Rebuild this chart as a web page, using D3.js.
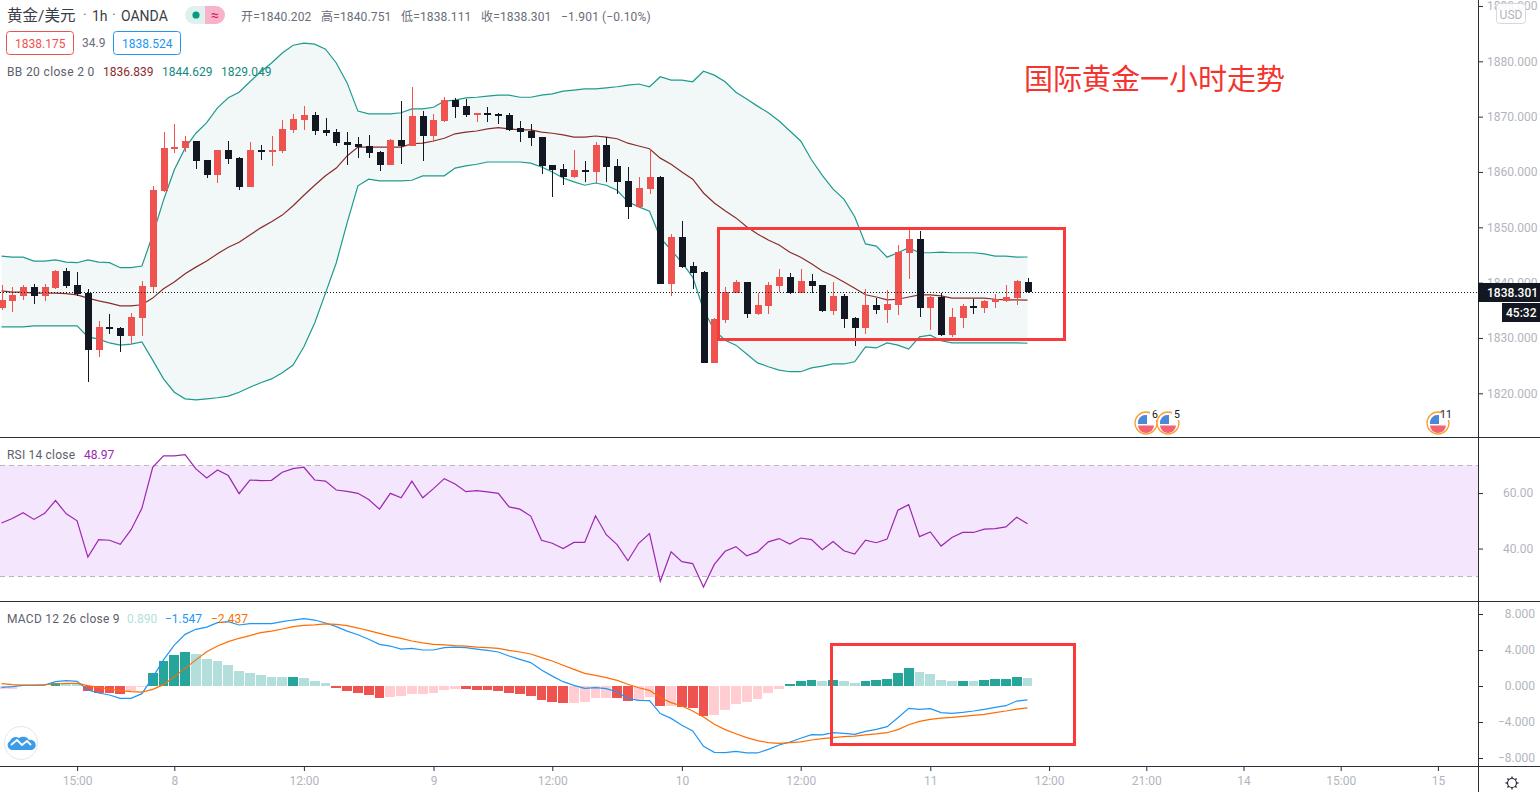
<!DOCTYPE html>
<html lang="zh">
<head>
  <meta charset="UTF-8">
  <title>国际黄金一小时走势</title>
  <style>
    html, body { margin: 0; background: #fff; overflow: hidden; }
    svg { display: block; }
    text { font-family: Roboto, "Noto Sans CJK SC", sans-serif; }
    .axis path { display: none; }
    .axis line { stroke: #2a2e39; }
    .axis text { fill: #b2b5be; font-size: 12px; }
    .crisp { shape-rendering: crispEdges; }
  </style>
</head>
<body>
  <svg id="chart" width="1540" height="792"></svg>
  <script src="https://d3js.org/d3.v7.min.js"></script>
  <script>
    // candles, one per hour
    const opens = [1835.4,1836.7,1837.6,1839.2,1837.6,1839.0,1842.1,1839.6,1838.1,1827.8,1832.0,1831.8,1830.4,1833.6,1839.2,1856.6,1864.2,1864.3,1865.6,1862.2,1859.4,1864.0,1862.5,1857.3,1864.0,1863.8,1863.8,1867.6,1869.4,1870.3,1867.6,1867.2,1865.4,1865.0,1864.7,1863.6,1861.3,1865.8,1864.7,1870.1,1866.5,1869.2,1873.0,1871.9,1870.3,1870.7,1870.5,1870.3,1867.9,1867.4,1866.3,1861.3,1860.5,1859.1,1860.4,1860.0,1864.9,1861.1,1858.4,1853.7,1856.9,1859.1,1839.8,1848.2,1843.0,1841.9,1825.5,1833.2,1838.1,1840.1,1834.3,1835.8,1839.4,1841.0,1838.1,1840.3,1839.6,1834.9,1837.6,1833.6,1831.8,1836.0,1835.1,1836.0,1845.4,1847.9,1835.4,1837.4,1830.5,1833.6,1835.8,1835.4,1836.5,1836.7,1837.2,1840.202];
    const highs = [1839.6,1839.2,1839.6,1839.8,1839.8,1842.3,1842.6,1841.9,1838.9,1833.1,1834.3,1832.0,1834.5,1840.3,1857.5,1867.2,1868.7,1866.5,1865.6,1862.2,1864.0,1865.6,1862.7,1865.4,1864.9,1866.5,1869.4,1870.5,1871.9,1870.8,1869.8,1867.8,1867.2,1866.3,1866.7,1863.8,1866.0,1872.8,1875.4,1871.0,1870.5,1873.5,1873.4,1873.2,1870.7,1871.7,1870.7,1870.7,1869.2,1868.7,1866.3,1861.3,1861.4,1864.0,1862.0,1865.4,1866.3,1862.3,1860.9,1859.1,1864.2,1859.3,1848.8,1851.1,1843.7,1842.1,1833.6,1839.2,1840.5,1840.1,1838.1,1840.1,1842.5,1841.7,1842.5,1841.6,1839.6,1840.1,1838.0,1833.8,1838.9,1837.2,1838.7,1846.8,1849.5,1849.3,1837.6,1838.1,1835.4,1836.1,1837.0,1836.9,1838.0,1839.6,1840.5,1840.751];
    const lows = [1835.1,1834.7,1836.9,1836.1,1836.7,1838.9,1839.0,1837.6,1822.0,1826.5,1830.7,1827.5,1828.9,1830.4,1838.1,1856.4,1863.4,1863.6,1860.5,1858.9,1858.0,1861.4,1856.7,1857.3,1862.2,1861.1,1863.4,1867.0,1867.6,1866.7,1866.5,1864.7,1861.3,1862.5,1862.5,1860.2,1861.3,1861.4,1864.7,1862.0,1865.4,1869.0,1869.7,1869.9,1869.0,1869.0,1868.7,1867.4,1865.4,1864.7,1859.6,1855.5,1857.6,1858.9,1858.2,1858.0,1858.2,1856.0,1851.5,1853.5,1856.0,1839.8,1837.6,1842.6,1838.9,1825.5,1825.5,1832.7,1838.1,1833.6,1834.1,1834.3,1838.3,1837.9,1838.1,1838.1,1834.7,1834.1,1831.8,1828.6,1830.7,1834.3,1832.7,1834.1,1840.7,1833.8,1831.4,1830.4,1830.2,1831.8,1834.3,1834.5,1835.4,1836.5,1836.0,1838.111];
    const closes = [1836.9,1837.8,1839.2,1837.6,1839.2,1842.1,1839.4,1838.0,1827.8,1832.0,1831.6,1830.4,1833.8,1839.4,1856.7,1864.3,1864.5,1865.6,1862.0,1859.4,1864.0,1862.3,1857.3,1864.0,1863.8,1864.0,1867.8,1869.6,1870.3,1867.4,1867.0,1865.2,1864.9,1864.5,1863.4,1861.3,1865.8,1864.7,1870.1,1866.5,1869.4,1873.0,1871.7,1870.3,1870.7,1870.3,1870.1,1867.6,1867.2,1866.1,1861.1,1860.4,1859.1,1860.4,1860.0,1864.9,1860.9,1858.2,1853.7,1857.1,1859.1,1839.8,1848.2,1842.8,1841.7,1825.5,1833.4,1838.3,1840.1,1834.3,1836.0,1839.6,1841.0,1838.1,1840.3,1839.4,1834.9,1837.6,1833.4,1831.8,1836.0,1835.1,1836.1,1845.5,1847.9,1835.4,1837.4,1830.5,1833.8,1835.8,1835.4,1836.7,1837.1,1837.4,1840.3,1838.301];

    // Bollinger bands
    const bbUpper = [1844.8,1844.6,1844.6,1843.9,1843.9,1844.1,1843.7,1843.6,1844.1,1843.7,1843.6,1842.7,1842.7,1843.0,1848.6,1854.9,1860.4,1864.3,1867.0,1868.9,1871.6,1873.4,1874.4,1876.3,1878.1,1879.7,1881.5,1882.9,1883.3,1883.1,1882.2,1879.7,1876.1,1871.0,1870.5,1870.5,1870.5,1870.7,1871.4,1871.4,1871.7,1872.8,1873.0,1873.4,1873.5,1873.7,1873.9,1873.9,1873.5,1873.5,1873.9,1874.1,1874.6,1874.8,1875.0,1875.0,1875.2,1875.4,1875.7,1875.9,1875.4,1877.2,1876.6,1876.6,1876.3,1878.2,1877.5,1876.3,1874.4,1873.2,1871.9,1870.7,1869.2,1867.4,1865.6,1862.2,1859.4,1856.9,1855.1,1851.9,1847.0,1846.6,1844.6,1845.4,1846.3,1845.4,1845.4,1845.5,1845.4,1845.4,1845.4,1845.2,1844.8,1844.8,1844.6,1844.629];
    const bbBasis = [1838.5,1838.3,1838.3,1838.1,1838.1,1838.1,1838.0,1837.8,1837.2,1836.7,1836.3,1835.8,1835.8,1836.0,1837.2,1838.9,1840.1,1841.6,1842.8,1843.9,1845.2,1846.4,1847.3,1848.6,1849.9,1851.0,1852.2,1853.9,1855.8,1857.6,1859.3,1860.7,1862.9,1864.5,1864.5,1864.5,1864.5,1864.5,1865.1,1865.2,1865.6,1866.1,1866.9,1867.2,1867.4,1867.8,1868.0,1867.8,1867.6,1867.6,1867.2,1867.0,1866.7,1866.3,1866.3,1866.5,1866.3,1866.0,1865.2,1864.7,1864.2,1862.5,1861.4,1860.0,1858.7,1856.2,1854.4,1853.0,1851.7,1850.1,1848.8,1847.7,1846.8,1845.5,1844.6,1843.4,1842.1,1841.2,1840.1,1839.0,1837.8,1837.4,1836.9,1837.0,1837.4,1837.8,1837.8,1837.6,1837.2,1837.2,1837.2,1837.2,1837.0,1836.9,1836.9,1836.839];
    const bbLower = [1832.0,1832.0,1832.0,1832.2,1832.2,1832.2,1832.2,1832.2,1830.2,1829.8,1829.1,1828.7,1828.9,1829.3,1826.0,1822.6,1820.2,1819.0,1818.8,1819.0,1819.2,1819.5,1820.2,1821.1,1821.9,1822.6,1823.7,1825.1,1828.4,1832.7,1838.1,1843.6,1850.8,1857.5,1858.7,1858.4,1858.4,1858.4,1858.5,1859.3,1859.3,1859.3,1860.7,1861.1,1861.4,1861.8,1861.8,1861.8,1861.8,1861.6,1860.9,1860.0,1858.9,1858.2,1857.6,1858.0,1857.6,1856.7,1854.6,1853.7,1852.9,1848.1,1845.9,1843.6,1841.0,1835.1,1831.4,1829.6,1828.7,1827.1,1825.5,1824.8,1824.2,1823.9,1823.9,1824.6,1824.9,1825.3,1825.3,1825.7,1828.4,1828.2,1829.1,1828.7,1828.0,1830.2,1830.5,1829.5,1829.1,1829.1,1829.1,1829.1,1829.1,1829.1,1829.1,1829.049];

    // RSI 14
    const rsiValues = [49.2,50.8,52.9,50.5,52.7,57.3,52.5,50.0,36.9,43.2,43.0,41.5,46.8,54.5,69.3,73.4,73.4,73.8,68.7,65.4,68.3,66.3,59.8,64.7,64.5,64.6,67.5,68.8,69.3,64.7,64.3,61.1,60.6,59.9,57.7,54.2,59.9,58.3,64.3,58.3,61.6,65.2,63.3,60.5,60.9,60.4,59.9,55.0,54.2,51.7,43.0,41.9,40.0,42.2,42.2,51.8,45.0,41.4,35.6,41.9,45.4,28.2,38.8,35.3,34.6,26.1,34.3,39.0,40.7,37.4,38.8,42.4,43.6,41.6,43.8,43.2,39.6,42.5,39.2,38.0,43.0,42.1,43.4,53.8,55.8,44.3,46.0,40.9,44.0,45.8,45.8,47.0,47.2,47.8,51.3,48.97];

    // MACD 12 26 9
    const macdHist = [-0.3,-0.28,-0.05,-0.04,-0.03,0.36,0.33,0.3,-0.55,-0.75,-0.8,-0.9,-0.6,-0.15,1.5,2.8,3.45,3.8,3.55,3.0,2.8,2.35,1.65,1.45,1.2,1.02,1.0,1.03,0.9,0.55,0.35,-0.2,-0.55,-0.8,-1.0,-1.35,-1.2,-1.15,-0.9,-0.88,-0.78,-0.45,-0.33,-0.34,-0.45,-0.46,-0.55,-0.78,-0.9,-1.1,-1.55,-1.78,-1.9,-1.88,-1.78,-1.33,-1.32,-1.34,-1.67,-1.55,-1.22,-2.22,-2.2,-2.33,-2.44,-3.33,-3.22,-2.67,-2.0,-1.78,-1.44,-0.78,-0.33,0.2,0.55,0.67,0.55,0.67,0.55,0.33,0.55,0.67,0.78,1.44,2.0,1.56,1.33,0.67,0.55,0.56,0.55,0.67,0.78,0.79,1.0,0.89];
    const macdLine = [-0.15,-0.07,0.07,0.07,0.1,0.48,0.6,0.52,-0.44,-0.78,-1.0,-1.37,-1.37,-0.85,0.96,2.9,4.55,5.74,6.3,6.55,7.04,7.15,6.78,6.93,6.93,6.93,7.15,7.33,7.48,7.33,7.0,6.6,6.1,5.7,5.2,4.63,4.44,4.1,4.19,4.0,4.0,4.26,4.33,4.26,4.1,3.96,3.78,3.33,2.96,2.6,1.78,1.1,0.48,0.07,-0.26,-0.19,-0.3,-0.67,-1.37,-1.6,-1.63,-3.07,-3.6,-4.37,-5.0,-6.7,-7.37,-7.4,-7.26,-7.44,-7.44,-7.04,-6.56,-6.22,-5.81,-5.4,-5.44,-5.19,-5.26,-5.37,-5.04,-4.81,-4.52,-3.52,-2.48,-2.59,-2.52,-2.96,-3.04,-2.93,-2.78,-2.59,-2.37,-2.19,-1.67,-1.547];
    const macdSignal = [0.26,0.15,0.11,0.11,0.15,0.22,0.3,0.3,0.04,-0.15,-0.33,-0.52,-0.63,-0.67,-0.37,0.15,1.04,1.96,2.9,3.8,4.44,4.93,5.3,5.6,5.93,6.1,6.33,6.6,6.74,6.8,6.9,6.85,6.7,6.44,6.15,5.85,5.55,5.3,5.0,4.8,4.63,4.56,4.48,4.44,4.33,4.26,4.19,3.96,3.78,3.56,3.15,2.78,2.3,1.85,1.4,1.19,0.93,0.63,0.19,-0.19,-0.48,-1.3,-1.85,-2.22,-2.78,-3.44,-4.26,-4.85,-5.3,-5.74,-6.07,-6.3,-6.37,-6.3,-6.2,-6.0,-5.85,-5.74,-5.63,-5.56,-5.44,-5.33,-5.19,-4.85,-4.3,-3.93,-3.7,-3.56,-3.48,-3.37,-3.26,-3.15,-2.96,-2.78,-2.56,-2.437];

    // axis labels
    const priceTicks = [1890, 1880, 1870, 1860, 1850, 1840, 1830, 1820];
    const rsiTicks = [60, 40];
    const macdTicks = [8, 4, 0, -4, -8];
    const timeTickBars = [7, 16, 28, 40, 51, 63, 74, 86, 97, 106, 115, 124, 133];
    const timeTickLabels = ["15:00", "8", "12:00", "9", "12:00", "10", "12:00", "11", "12:00", "21:00", "14", "15:00", "15"];

    const lastPrice = 1838.301;
    const colors = {
      up: "#ef5350", down: "#131722",
      band: "#1f9a8e", basis: "#8a2c2c", bandFill: "#f2f8f8",
      rsi: "#9c27b0", rsiFill: "#f4e6fd", rsiDash: "#bdb4c4",
      macd: "#2196f3", signal: "#ff6d00",
      grow: "#26a69a", fade: "#b2dfdb", drop: "#ef5350", rise: "#ffcdd2",
      frame: "#f83a3a", pane: "#2a2e39"
    };

    const svg = d3.select("#chart");
    const barIndex = d3.range(closes.length);

    const x = d3.scaleLinear().domain([0, 95]).range([1.5, 1027.5]);
    const yPrice = d3.scaleLinear().domain([1820, 1880]).range([393.3, 61.3]);
    const yRsi = d3.scaleLinear().domain([30, 70]).range([576.3, 465.3]);
    const yMacd = d3.scaleLinear().domain([-8, 8]).range([758, 614]);

    const lineOn = (y, values) => d3.line().x(i => x(i)).y(i => y(values[i]))(barIndex);
    const addLine = (y, values, color) => svg.append("path")
      .attr("d", lineOn(y, values))
      .attr("fill", "none")
      .attr("stroke", color)
      .attr("stroke-width", 1.2);

    // Bollinger fill and lines sit under the candles
    svg.append("path")
      .attr("d", d3.area().x(i => x(i)).y0(i => yPrice(bbLower[i])).y1(i => yPrice(bbUpper[i]))(barIndex))
      .attr("fill", colors.bandFill);
    addLine(yPrice, bbUpper, colors.band);
    addLine(yPrice, bbLower, colors.band);
    addLine(yPrice, bbBasis, colors.basis);

    // candles
    const bodyLeft = i => Math.round(x(i) - 3);
    const candleColor = i => closes[i] >= opens[i] ? colors.up : colors.down;
    const candles = svg.append("g").attr("class", "crisp");
    candles.selectAll(".wick").data(barIndex).join("rect")
      .attr("class", "wick")
      .attr("x", i => bodyLeft(i) + 3)
      .attr("width", 1)
      .attr("y", i => yPrice(highs[i]))
      .attr("height", i => yPrice(lows[i]) - yPrice(highs[i]))
      .attr("fill", candleColor);
    candles.selectAll(".body").data(barIndex).join("rect")
      .attr("class", "body")
      .attr("x", bodyLeft)
      .attr("width", 7)
      .attr("y", i => yPrice(Math.max(opens[i], closes[i])))
      .attr("height", i => Math.max(2, Math.abs(yPrice(opens[i]) - yPrice(closes[i]))))
      .attr("fill", candleColor);

    // last price line
    svg.append("line")
      .attr("x1", 0).attr("x2", 1478)
      .attr("y1", Math.round(yPrice(lastPrice)) + 0.5).attr("y2", Math.round(yPrice(lastPrice)) + 0.5)
      .attr("stroke", "#131722")
      .attr("stroke-dasharray", "1 2");

    // RSI pane
    svg.append("rect")
      .attr("x", 0).attr("width", 1478)
      .attr("y", yRsi(70)).attr("height", yRsi(30) - yRsi(70))
      .attr("fill", colors.rsiFill);
    [70, 30].forEach(level => {
      svg.append("line")
        .attr("x1", 0).attr("x2", 1478)
        .attr("y1", Math.round(yRsi(level)) + 0.5).attr("y2", Math.round(yRsi(level)) + 0.5)
        .attr("stroke", colors.rsiDash)
        .attr("stroke-dasharray", "5 4");
    });
    addLine(yRsi, rsiValues, colors.rsi);

    // MACD pane, bar colour follows the change from the bar before
    const histColor = i => {
      const prev = i > 0 ? macdHist[i - 1] : macdHist[i];
      if (macdHist[i] >= 0) return macdHist[i] > prev ? colors.grow : colors.fade;
      return macdHist[i] < prev ? colors.drop : colors.rise;
    };
    svg.append("g").attr("class", "crisp")
      .selectAll("rect").data(barIndex).join("rect")
      .attr("x", i => Math.round(x(i) - 4.9))
      .attr("width", i => Math.round(x(i) + 4.9) - Math.round(x(i) - 4.9))
      .attr("y", i => Math.min(yMacd(macdHist[i]), yMacd(0)))
      .attr("height", i => Math.abs(yMacd(macdHist[i]) - yMacd(0)))
      .attr("fill", histColor);
    addLine(yMacd, macdLine, colors.macd);
    addLine(yMacd, macdSignal, colors.signal);

    // pane separators and scale border
    const separators = svg.append("g").attr("class", "crisp").attr("stroke", colors.pane);
    [437.5, 601.5, 766.5].forEach(y => separators.append("line").attr("x1", 0).attr("x2", 1540).attr("y1", y).attr("y2", y));
    separators.append("line").attr("x1", 1478.5).attr("x2", 1478.5).attr("y1", 0).attr("y2", 792);

    // axes
    const priceAxis = d3.axisRight(yPrice).tickValues(priceTicks).tickFormat(d3.format(".3f")).tickSize(5).tickPadding(4);
    svg.append("g").attr("class", "axis").attr("transform", "translate(1478,0)").call(priceAxis);
    const rsiAxis = d3.axisRight(yRsi).tickValues(rsiTicks).tickFormat(d3.format(".2f")).tickSize(5).tickPadding(20);
    svg.append("g").attr("class", "axis").attr("transform", "translate(1478,0)").call(rsiAxis);
    const macdAxis = d3.axisRight(yMacd).tickValues(macdTicks)
      .tickFormat(d => d3.format(".3f")(d).replace("-", "\u2212")).tickSize(5).tickPadding(4);
    const macdG = svg.append("g").attr("class", "axis").attr("transform", "translate(1478,0)").call(macdAxis);
    macdG.selectAll("text").attr("text-anchor", "end").attr("x", 1535 - 1478);
    const timeAxis = d3.axisBottom(x).tickValues(timeTickBars)
      .tickFormat((d, i) => timeTickLabels[i]).tickSize(5).tickPadding(5);
    svg.append("g").attr("class", "axis").attr("transform", "translate(0,766)").call(timeAxis);

    // last price tags
    svg.append("rect").attr("x", 1478).attr("y", 283).attr("width", 62).attr("height", 19).attr("fill", colors.down);
    svg.append("text").text("1838.301").attr("x", 1487).attr("y", 297).attr("fill", "#fff").attr("font-size", 12).attr("font-weight", 500);
    svg.append("rect").attr("x", 1502).attr("y", 303).attr("width", 38).attr("height", 19).attr("fill", colors.down);
    svg.append("text").text("45:32").attr("x", 1506).attr("y", 317).attr("fill", "#fff").attr("font-size", 12).attr("font-weight", 500);

    // USD button
    svg.append("rect").attr("x", 1496.5).attr("y", 3.5).attr("width", 29).attr("height", 20).attr("rx", 3)
      .attr("fill", "#fff").attr("fill-opacity", 0.85).attr("stroke", "#d6d8de");
    svg.append("text").text("USD").attr("x", 1511).attr("y", 18.5).attr("text-anchor", "middle").attr("font-size", 12).attr("fill", "#b2b5be");

    // settings icon in the corner
    const gear = svg.append("g").attr("transform", "translate(1512,783)").attr("stroke", "#2a2e39").attr("fill", "none");
    gear.append("circle").attr("r", 4.5).attr("stroke-width", 1.2);
    d3.range(8).forEach(k => gear.append("line").attr("x1", 4.5).attr("x2", 6.5).attr("stroke-width", 1.4).attr("transform", `rotate(${k * 45})`));

    // header legend
    const label = (str, xPos, yPos, fill, size, spacing) => svg.append("text").text(str)
      .attr("x", xPos).attr("y", yPos).attr("fill", fill).attr("font-size", size || 12)
      .attr("letter-spacing", spacing || 0);

    label("黄金/美元", 7, 21, "#3a3d46", 15.5);
    label("·", 83, 20, "#6a6d78", 14);
    label("1h", 92, 21, "#3a3d46", 14);
    label("·", 112, 20, "#6a6d78", 14);
    label("OANDA", 121, 21, "#3a3d46", 14);

    svg.append("path").attr("d", "M205,6 h-11 a9,9 0 0 0 0,18 h11 z").attr("fill", "#dff1ee");
    svg.append("path").attr("d", "M205,6 h11 a9,9 0 0 1 0,18 h-11 z").attr("fill", "#f8b3cb");
    svg.append("circle").attr("cx", 196).attr("cy", 15).attr("r", 3.6).attr("fill", "#089981");
    svg.append("text").text("≈").attr("x", 215).attr("y", 20).attr("text-anchor", "middle").attr("font-size", 14).attr("fill", "#d81b60");

    const ohlcLabels = ["开=1840.202", "高=1840.751", "低=1838.111", "收=1838.301", "−1.901", "(−0.10%)"];
    const ohlcX = [241, 321, 401, 481, 561, 602];
    ohlcLabels.forEach((str, k) => label(str, ohlcX[k], 21, "#6a6d78", 12, k < 4 ? 0.15 : 0.2));

    svg.append("rect").attr("x", 6.5).attr("y", 31.5).attr("width", 67).attr("height", 23).attr("rx", 3).attr("fill", "#fff").attr("stroke", colors.up);
    label("1838.175", 15, 48, colors.up, 12);
    label("34.9", 82, 47, "#6a6d78", 12);
    svg.append("rect").attr("x", 113.5).attr("y", 31.5).attr("width", 67).attr("height", 23).attr("rx", 3).attr("fill", "#fff").attr("stroke", colors.macd);
    label("1838.524", 122, 48, colors.macd, 12);

    label("BB 20 close 2 0", 7, 76, "#5d606b", 12, 0.35);
    label("1836.839", 103, 76, "#8a2c2c", 12);
    label("1844.629", 162, 76, "#138a7e", 12);
    label("1829.049", 221, 76, "#138a7e", 12);

    label("RSI 14 close", 7, 459, "#5d606b", 12, 0.2);
    label("48.97", 84, 459, "#9c27b0", 12);

    label("MACD 12 26 close 9", 7, 623, "#5d606b", 12, 0.25);
    label("0.890", 127, 623, "#b2dfdb", 12);
    label("−1.547", 165, 623, "#2196f3", 12);
    label("−2.437", 211, 623, "#ff6d00", 12);

    // hand drawn annotations
    svg.append("text").text("国际黄金一小时走势").attr("x", 1024).attr("y", 90)
      .attr("font-size", 29).attr("fill", "#f4342f");
    svg.append("rect").attr("x", 718.5).attr("y", 228.5).attr("width", 346).attr("height", 111)
      .attr("fill", "none").attr("stroke", colors.frame).attr("stroke-width", 3);
    svg.append("rect").attr("x", 831.5).attr("y", 644.5).attr("width", 243).attr("height", 100)
      .attr("fill", "none").attr("stroke", colors.frame).attr("stroke-width", 3);

    // economic event flags
    const eventCounts = ["6", "5", "11"];
    const eventX = [1146, 1168, 1438];
    const flags = svg.append("g");
    eventX.forEach((cx, k) => {
      const g = flags.append("g").attr("transform", `translate(${cx},423)`);
      g.append("circle").attr("r", 11).attr("fill", "#fff").attr("stroke", "#f7a035").attr("stroke-width", 1.3);
      g.append("path").attr("d", "M-8,2 A8,8 0 0 0 8,2 Z").attr("fill", "#f26271");
      g.append("rect").attr("x", -8).attr("y", 1).attr("width", 16).attr("height", 1.5).attr("fill", "#fff");
      g.append("path").attr("d", "M-8,1 A8,8 0 0 1 1,-8 V1 Z").attr("fill", "#4a88d8");
      g.append("rect").attr("x", 4).attr("y", -14).attr("width", k === 2 ? 14 : 9).attr("height", 11).attr("fill", "#fff");
      g.append("text").text(eventCounts[k]).attr("x", k === 2 ? 2 : 6).attr("y", -5).attr("font-size", 10.5).attr("fill", "#131722");
    });

    // watermark logo bottom left
    const logo = svg.append("g").attr("transform", "translate(21,743)");
    logo.append("circle").attr("r", 16.5).attr("fill", "#fff").attr("stroke", "#e6e7ea").attr("stroke-width", 1);
    logo.append("path")
      .attr("d", "M-10,7 a5,5 0 0 1 -1,-9 a6,6 0 0 1 9,-3 a7,7 0 0 1 10,2 a5,5 0 0 1 3,10 z")
      .attr("fill", "#3c9ce8");
    logo.append("path")
      .attr("d", "M-10,2 L-4,-3 L1,2 L6,-2 L10,2")
      .attr("fill", "none").attr("stroke", "#fff").attr("stroke-width", 1.8);
  </script>
</body>
</html>
